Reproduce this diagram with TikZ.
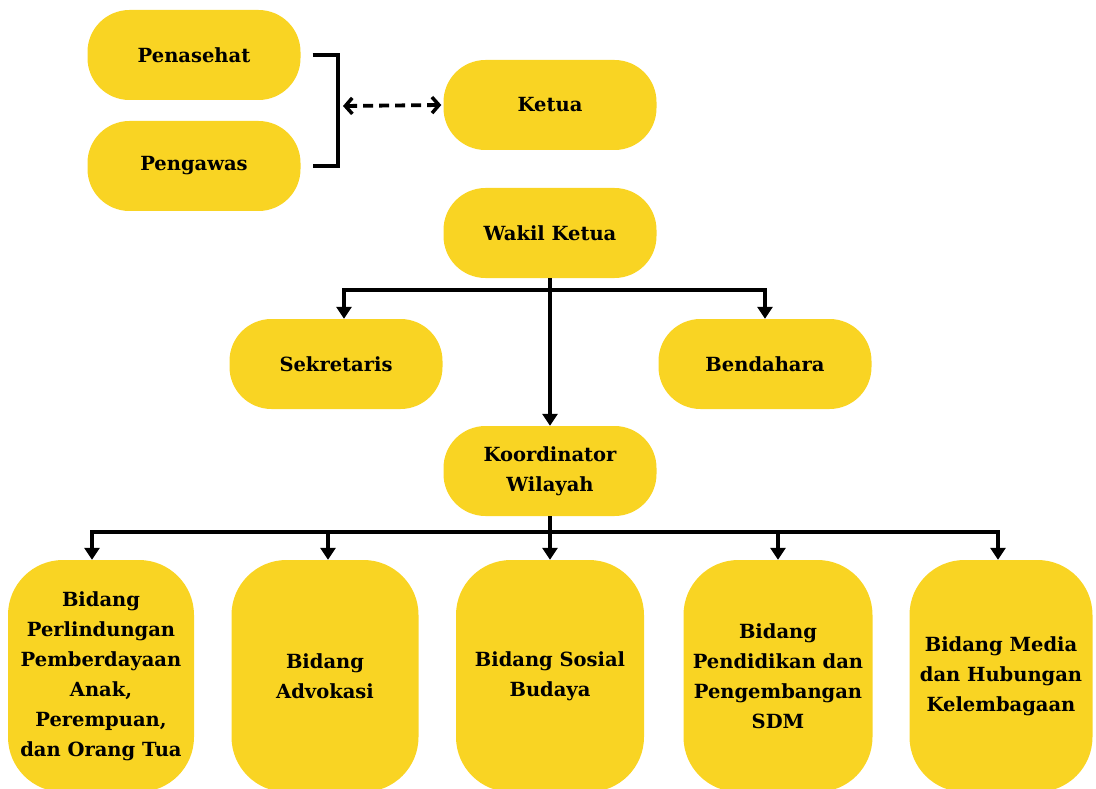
\documentclass[tikz,border=0pt]{standalone}
\usepackage{fontspec}
\setmainfont{DejaVu Serif}
\usetikzlibrary{arrows.meta}
\definecolor{ylw}{RGB}{249,212,35}
\begin{document}
\begin{tikzpicture}[x=1pt,y=-1pt,
  lbl/.style={font=\bfseries\fontsize{19.5}{30}\selectfont, align=center, inner sep=0pt},
  pill/.style={lbl, fill=ylw, rounded corners=42pt, minimum width=213pt, minimum height=90pt},
  tall/.style={lbl, fill=ylw, rounded corners=55pt, minimum height=232pt},
  conn/.style={line width=3.8pt},
  arr/.style={conn, -{Triangle[width=15pt,length=12pt]}},
  dashedarr/.style={line width=3.8pt, dash pattern=on 10pt off 6pt,
     {Straight Barb[length=7pt,width=16pt,line width=3.5pt]}-{Straight Barb[length=7pt,width=16pt,line width=3.5pt]}}]
\useasboundingbox (0,0) rectangle (1096,789);
\clip (0,0) rectangle (1096,789);
% top nodes
\node[pill] (pen) at (194,55) {Penasehat};
\node[pill] (peng) at (194,166) {Pengawas};
\node[pill] (ket) at (550,105) {Ketua};
\node[pill] (wak) at (550,233) {Wakil Ketua};
\node[pill] (sek) at (336,364) {Sekretaris};
\node[pill] (ben) at (765,364) {Bendahara};
\node[pill] (kor) at (550,471) {Koordinator\\Wilayah};
% bottom boxes
\node[tall, minimum width=186pt] (b1) at (101,676) {Bidang\\Perlindungan\\Pemberdayaan\\Anak,\\Perempuan,\\dan Orang Tua};
\node[tall, minimum width=187pt] (b2) at (325,676) {Bidang\\Advokasi};
\node[tall, minimum width=188pt] (b3) at (550,676) {Bidang Sosial\\Budaya};
\node[tall, minimum width=189pt] (b4) at (778,676) {Bidang\\Pendidikan dan\\Pengembangan\\SDM};
\node[tall, minimum width=183pt] (b5) at (1001,676) {Bidang Media\\dan Hubungan\\Kelembagaan};
% bracket
\coordinate (brt) at (338,55);
\coordinate (brb) at (338,166);
\coordinate (brm) at (338,106);
\draw[conn] ([xshift=12pt]pen.east) -- (brt) -- (brb) -- ([xshift=12pt]peng.east);
\draw[dashedarr] ([xshift=5pt]brm) -- ([xshift=-2pt]ket.west);
% wakil -> sekretaris, bendahara, koordinator
\coordinate (j1) at (550,290);
\draw[conn] (wak.south) -- (j1);
\draw[arr] (j1) -| ([xshift=8pt]sek.north);
\draw[arr] (j1) -| (ben.north);
\draw[arr] (wak.south) -- (kor.north);
% koordinator -> bidang
\coordinate (j2) at (550,532);
\draw[conn] (kor.south) -- (j2);
\draw[arr] (j2) -| ([xshift=-9pt]b1.north);
\draw[arr] (j2) -| ([xshift=3pt]b2.north);
\draw[arr] (j2) -- (b3.north);
\draw[arr] (j2) -| (b4.north);
\draw[arr] (j2) -| ([xshift=-3pt]b5.north);
\end{tikzpicture}
\end{document}
